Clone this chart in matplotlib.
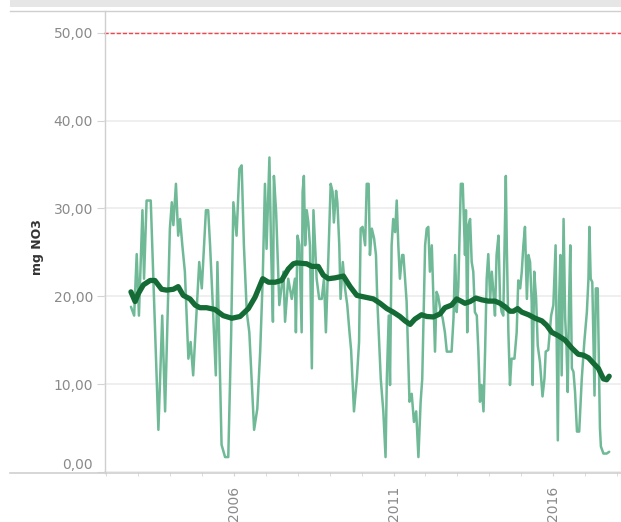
import matplotlib
matplotlib.use('Agg')
import matplotlib.pyplot as plt
from matplotlib.lines import Line2D
from matplotlib.patches import Rectangle
from matplotlib.ticker import FixedLocator, MultipleLocator, FuncFormatter

light_years = [
    2002.77, 2002.87, 2002.95, 2003.02, 2003.13, 2003.18, 2003.26, 2003.39, 2003.63, 2003.75,
    2003.84, 2003.89, 2003.99, 2004.05, 2004.10, 2004.18, 2004.25, 2004.31, 2004.38, 2004.46,
    2004.57, 2004.64, 2004.72, 2004.81, 2004.91, 2004.99, 2005.12, 2005.19, 2005.25, 2005.33,
    2005.43, 2005.48, 2005.53, 2005.61, 2005.72, 2005.82, 2005.91, 2005.98, 2006.08, 2006.17,
    2006.24, 2006.31, 2006.40, 2006.48, 2006.63, 2006.73, 2006.82, 2006.90, 2006.97, 2007.02,
    2007.11, 2007.16, 2007.22, 2007.25, 2007.32, 2007.42, 2007.55, 2007.60, 2007.70, 2007.81,
    2007.91, 2007.94, 2007.99, 2008.05, 2008.12, 2008.15, 2008.19, 2008.23, 2008.28, 2008.33,
    2008.38, 2008.44, 2008.49, 2008.54, 2008.59, 2008.67, 2008.75, 2008.82, 2008.88, 2008.96,
    2009.03, 2009.09, 2009.13, 2009.20, 2009.24, 2009.30, 2009.34, 2009.41, 2009.48, 2009.55,
    2009.62, 2009.67, 2009.76, 2009.85, 2009.92, 2009.97, 2010.03, 2010.11, 2010.16, 2010.22,
    2010.26, 2010.32, 2010.39, 2010.45, 2010.49, 2010.60, 2010.68, 2010.75, 2010.79, 2010.85,
    2010.89, 2010.94, 2010.99, 2011.05, 2011.10, 2011.15, 2011.20, 2011.27, 2011.31, 2011.36,
    2011.41, 2011.50, 2011.57, 2011.64, 2011.71, 2011.78, 2011.85, 2011.90, 2011.96, 2011.99,
    2012.04, 2012.09, 2012.14, 2012.20, 2012.25, 2012.30, 2012.35, 2012.40, 2012.48, 2012.54,
    2012.61, 2012.67, 2012.82, 2012.88, 2012.93, 2012.98, 2013.03, 2013.11, 2013.17, 2013.24,
    2013.27, 2013.31, 2013.35, 2013.40, 2013.45, 2013.50, 2013.55, 2013.61, 2013.66, 2013.71,
    2013.76, 2013.82, 2013.87, 2013.92, 2013.97, 2014.03, 2014.08, 2014.13, 2014.18, 2014.23,
    2014.29, 2014.34, 2014.39, 2014.44, 2014.52, 2014.55, 2014.60, 2014.65, 2014.70, 2014.79,
    2014.86, 2014.91, 2014.97, 2015.02, 2015.07, 2015.12, 2015.18, 2015.23, 2015.28, 2015.33,
    2015.36, 2015.41, 2015.47, 2015.52, 2015.59, 2015.67, 2015.73, 2015.77, 2015.85, 2015.94,
    2016.01, 2016.08, 2016.15, 2016.19, 2016.23, 2016.27, 2016.33, 2016.38, 2016.42, 2016.46,
    2016.50, 2016.54, 2016.59, 2016.64, 2016.69, 2016.75, 2016.82, 2016.90, 2016.98, 2017.06,
    2017.11, 2017.14, 2017.18, 2017.23, 2017.30, 2017.34, 2017.40, 2017.47, 2017.50, 2017.58,
    2017.68, 2017.76,
]
light_values = [
    18.8, 17.8, 24.8, 17.8, 29.8, 22.0, 30.9, 30.9, 4.8, 17.8,
    6.9, 13.9, 27.7, 30.7, 28.1, 32.8, 26.9, 28.8, 25.8, 22.8,
    12.9, 14.8, 11.0, 17.1, 23.9, 20.9, 29.8, 29.8, 25.8, 19.4,
    11.0, 23.9, 15.9, 3.1, 1.7, 1.7, 15.6, 30.7, 26.9, 34.5,
    34.9, 25.8, 18.2, 15.9, 4.8, 7.2, 13.7, 22.0, 32.8, 25.4,
    35.8, 25.8, 17.1, 33.7, 29.6, 19.0, 22.8, 17.1, 22.0, 19.7,
    22.0, 15.9, 26.9, 25.8, 15.9, 31.9, 33.7, 25.8, 29.8, 28.4,
    25.8, 11.8, 29.8, 25.8, 22.0, 19.7, 19.7, 22.0, 15.9, 24.7,
    32.8, 31.9, 28.4, 32.0, 30.7, 25.8, 19.7, 23.9, 20.9, 19.0,
    15.9, 13.9, 6.9, 10.6, 14.8, 27.7, 27.9, 25.8, 32.8, 32.8,
    24.7, 27.7, 26.6, 24.7, 19.7, 10.6, 6.9, 1.7, 10.6, 17.8,
    9.9, 25.8, 28.8, 27.3, 30.9, 25.8, 22.0, 24.7, 24.7, 22.0,
    19.4, 8.0, 8.9, 5.7, 6.9, 1.7, 8.0, 10.6, 20.9, 25.8,
    27.7, 27.9, 22.8, 25.8, 19.7, 13.7, 20.5, 20.0, 18.2, 17.5,
    15.9, 13.7, 13.7, 17.5, 24.7, 18.2, 21.0, 32.8, 32.8, 24.7,
    29.8, 15.9, 28.1, 28.8, 23.9, 22.8, 18.2, 17.8, 13.7, 8.0,
    9.9, 6.9, 13.7, 22.0, 24.8, 19.7, 22.8, 20.5, 17.8, 24.7,
    26.9, 19.4, 18.2, 17.8, 33.7, 25.8, 15.9, 9.9, 12.9, 12.9,
    15.9, 21.8, 20.9, 22.8, 25.8, 27.9, 19.7, 24.7, 23.9, 19.4,
    9.9, 22.8, 19.7, 14.4, 12.5, 8.6, 10.6, 13.7, 13.9, 17.8,
    19.0, 25.8, 3.6, 19.4, 24.7, 11.0, 28.8, 17.5, 14.4, 9.1,
    19.0, 25.8, 11.8, 11.4, 9.1, 4.6, 4.6, 10.6, 14.8, 18.2,
    22.0, 27.9, 22.0, 21.6, 8.7, 20.9, 20.9, 5.0, 2.9, 2.1,
    2.1, 2.3,
]

# smoothed trend line
trend_years = [
    2002.77, 2002.90, 2003.00, 2003.16, 2003.37, 2003.52, 2003.73, 2003.89, 2004.10, 2004.25,
    2004.41, 2004.62, 2004.78, 2004.93, 2005.14, 2005.40, 2005.66, 2005.93, 2006.19, 2006.45,
    2006.66, 2006.90, 2007.08, 2007.29, 2007.49, 2007.70, 2007.86, 2007.96, 2008.28, 2008.44,
    2008.64, 2008.80, 2008.96, 2009.17, 2009.43, 2009.64, 2009.85, 2010.11, 2010.37, 2010.58,
    2010.79, 2010.99, 2011.20, 2011.36, 2011.52, 2011.67, 2011.88, 2012.04, 2012.25, 2012.46,
    2012.61, 2012.82, 2012.98, 2013.14, 2013.24, 2013.40, 2013.58, 2013.76, 2013.97, 2014.18,
    2014.34, 2014.50, 2014.65, 2014.76, 2014.89, 2015.02, 2015.23, 2015.44, 2015.65, 2015.80,
    2015.96, 2016.17, 2016.38, 2016.59, 2016.79, 2016.95, 2017.11, 2017.26, 2017.42, 2017.58,
    2017.68, 2017.76,
]
trend_values = [
    20.5, 19.4, 20.3, 21.3, 21.8, 21.8, 20.8, 20.7, 20.8, 21.1,
    20.1, 19.7, 19.0, 18.7, 18.7, 18.5, 17.8, 17.5, 17.7, 18.6,
    19.9, 22.0, 21.6, 21.6, 21.8, 23.1, 23.7, 23.8, 23.7, 23.4,
    23.4, 22.4, 22.0, 22.1, 22.3, 21.1, 20.1, 19.9, 19.7, 19.2,
    18.6, 18.2, 17.7, 17.2, 16.8, 17.4, 17.9, 17.7, 17.65, 18.0,
    18.7, 19.0, 19.7, 19.4, 19.2, 19.4, 19.8, 19.6, 19.45, 19.45,
    19.2, 18.8, 18.3, 18.3, 18.6, 18.2, 17.9, 17.5, 17.2, 16.7,
    15.9, 15.5, 15.0, 14.1, 13.4, 13.3, 13.0, 12.4, 11.8, 10.6,
    10.5, 10.9,
]

limit_value = 50
y_ticks = [0, 10, 20, 30, 40, 50]
x_major = [2006, 2011, 2016]

W, H = 621, 522
fig = plt.figure(figsize=(W / 100, H / 100), dpi=100)
ax = fig.add_axes([104 / W, 1 - 472 / H, 1 - 104 / W, (472 - 11) / H])

ax.axhline(limit_value, color='#f2444c', lw=1.0, ls=(0, (3, 1.4)), zorder=3)
ax.plot(light_years, light_values, color='#6fb997', lw=1.8,
        solid_joinstyle='round', solid_capstyle='round', zorder=4)
ax.plot(trend_years, trend_values, color='#156b35', lw=3.8,
        solid_joinstyle='round', solid_capstyle='round', zorder=5)

ax.set_xlim(2001.925, 2018.13)
ax.set_ylim(0, 52.47)

# y axis
ax.yaxis.set_major_locator(FixedLocator(y_ticks))
ax.yaxis.set_major_formatter(FuncFormatter(lambda v, p: f'{v:.2f}'.replace('.', ',')))
ax.tick_params(axis='y', length=5, color='#d4d4d4', labelcolor='#8a8a8a',
               labelsize=10, pad=3)
ax.yaxis.grid(True, color='#ececec', lw=1.2)
ax.set_axisbelow(True)

# x axis
ax.xaxis.set_major_locator(FixedLocator(x_major))
ax.xaxis.set_minor_locator(MultipleLocator(1))
ax.xaxis.set_major_formatter(FuncFormatter(lambda v, p: f'{int(v)}'))
ax.tick_params(axis='x', which='both', length=3, color='#d4d4d4', labelcolor='#8a8a8a',
               labelsize=10, pad=7, labelrotation=90)

for s in ax.spines.values():
    s.set_visible(False)

# zero label sits above the baseline
ax.yaxis.get_major_ticks()[0].label1.set_va('bottom')

# frame lines and top band
fig.add_artist(Rectangle((10 / W, 1 - 7 / H), 1, 7 / H, transform=fig.transFigure,
                         color='#e6e6e6', lw=0))
fig.add_artist(Line2D([10 / W, 1], [1 - 11 / H] * 2, color='#cfcfcf', lw=1))
fig.add_artist(Line2D([10 / W, 1], [1 - 472.5 / H] * 2, color='#cfcfcf', lw=1.2))
fig.add_artist(Line2D([104.5 / W] * 2, [1 - 11 / H, 1 - 472.5 / H], color='#cfcfcf', lw=1))

fig.text(38 / W, 1 - 247 / H, 'mg NO3', rotation=90, ha='center', va='center',
         fontsize=9, color='#333333', fontweight='semibold')

fig.savefig('out.png', dpi=100)
